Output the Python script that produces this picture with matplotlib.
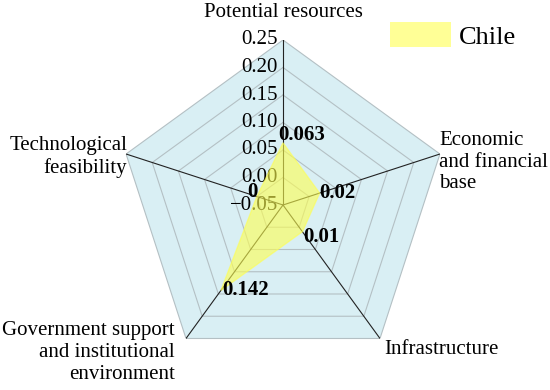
import numpy as np
import matplotlib.pyplot as plt
from matplotlib.patches import Patch

plt.rcParams['font.family'] = ['Liberation Serif', 'DejaVu Serif']

# data
categories = ['Potential resources', 'Economic\nand financial\nbase', 'Infrastructure',
              'Government support\nand institutional\nenvironment', 'Technological\nfeasibility']
chile = [0.063, 0.02, 0.01, 0.142, 0.0]
value_labels = ['0.063', '0.02', '0.01', '0.142', '0']
r_ticks = [-0.05, 0.00, 0.05, 0.10, 0.15, 0.20, 0.25]
r_tick_labels = ['\u22120.05', '0.00', '0.05', '0.10', '0.15', '0.20', '0.25']

# layout (offsets in points)
cat_style = [
    dict(off=(0, 19.5), ha='center', ma='center'),
    dict(off=(-0.7, -5.8), ha='left', ma='left'),
    dict(off=(2.9, -7.9), ha='left', ma='left'),
    dict(off=(-7.9, -10.1), ha='right', ma='right'),
    dict(off=(0.7, -2.2), ha='right', ma='right'),
]
val_off = [(-3.6, 5.8), (0, 0), (0.7, -3.6), (0.7, 0), (-7.2, 2.9)]

FILL = '#ffff50'
BG = '#d9eff4'

fig = plt.figure(figsize=(5.5, 3.9), dpi=100)
ax = fig.add_axes([118 / 550, 20 / 390, 330 / 550, 330 / 390], projection='polar')
ax.set_theta_offset(np.pi / 2)
ax.set_theta_direction(-1)
ax.set_ylim(r_ticks[0], r_ticks[-1])
ax.set_axis_off()

n = len(categories)
angles = np.linspace(0, 2 * np.pi, n, endpoint=False)
closed = np.append(angles, angles[0])

# background pentagon and grid rings
ax.fill(closed, [r_ticks[-1]] * (n + 1), color=BG, lw=0, zorder=0)
for r in r_ticks[1:]:
    ax.plot(closed, [r] * (n + 1), color='#b4c0c4', lw=0.8, zorder=1)
for a in angles:
    ax.plot([a, a], [r_ticks[0], r_ticks[-1]], color='#222222', lw=0.8, zorder=2)

# radial tick labels along the top spoke
for r, lab in zip(r_ticks, r_tick_labels):
    ax.annotate(lab, xy=(0, r), xytext=(-3.6, 0), textcoords='offset points',
                ha='right', va='center', fontsize=15, zorder=3, annotation_clip=False)

# data
vals = np.append(chile, chile[0])
ax.fill(closed, vals, color=FILL, alpha=0.6, lw=1, zorder=4)

for a, v, lab, off in zip(angles, chile, value_labels, val_off):
    ax.annotate(lab, xy=(a, v), xytext=off, textcoords='offset points',
                ha='left', va='center', fontsize=15, fontweight='bold', zorder=5,
                annotation_clip=False)

# category labels
for a, cat, st in zip(angles, categories, cat_style):
    ax.annotate(cat, xy=(a, r_ticks[-1]), xytext=st['off'], textcoords='offset points',
                ha=st['ha'], va='center', multialignment=st['ma'], fontsize=15,
                annotation_clip=False)

fig.legend(handles=[Patch(facecolor=FILL, alpha=0.6, edgecolor='none', label='Chile')],
           loc='upper left', bbox_to_anchor=(390 / 550, 1 - 22 / 390), frameon=False,
           fontsize=19, handlelength=2.3, handleheight=1.1, handletextpad=0.3,
           borderpad=0, borderaxespad=0)

fig.savefig('out.png', dpi=100)
